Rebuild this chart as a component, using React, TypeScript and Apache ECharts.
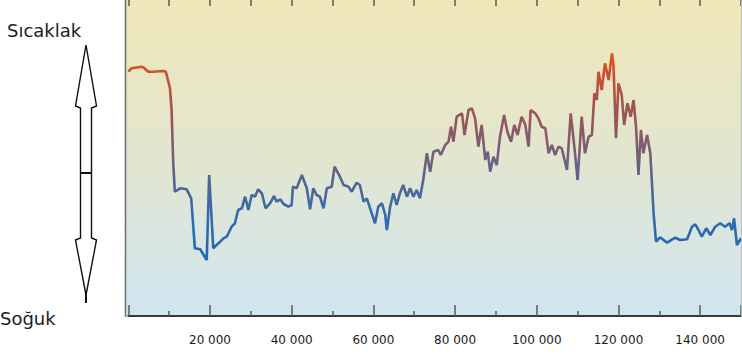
import React, { useEffect, useRef } from "react";
import * as echarts from "echarts";

// Years before present (x) and relative temperature index (y, unitless)
const years: number[] = [
  0, 800, 3300, 3800, 4900, 6100, 8600, 9200, 10200, 10600, 11000, 11400, 12700, 14300, 15400,
  16300, 17600, 19200, 19800, 20800, 21600, 22500, 23300, 24100, 25300, 26100, 26900, 27800,
  28600, 29400, 30200, 31000, 31800, 32700, 33600, 34700, 35700, 36300, 37200, 38000, 39200,
  40000, 40300, 41200, 42500, 43700, 44500, 45300, 46100, 46900, 47800, 48600, 49800, 50500,
  51800, 52700, 53900, 54700, 55900, 56700, 57600, 58400, 59200, 60400, 61200, 62100, 62900,
  63300, 64100, 64900, 65700, 66500, 67300, 68200, 69000, 69800, 70600, 71400, 72200, 73100,
  73900, 74700, 75900, 76500, 77600, 78400, 79000, 79600, 80400, 81700, 82300, 83300, 84100,
  84900, 85700, 86500, 87400, 88000, 88600, 89400, 90200, 91000, 92000, 92800, 93700, 94500,
  95300, 96300, 97200, 98000, 98500, 99600, 100400, 101200, 102100, 102900, 103700, 104500,
  105300, 106100, 107400, 108300, 109200, 110000, 111000, 111800, 112700, 113500, 114100,
  114700, 115100, 115900, 116700, 117600, 118400, 118800, 119400, 120000, 120800, 121400,
  122200, 123000, 123700, 124300, 124900, 125500, 126100, 127000, 127800, 128600, 129200,
  130200, 131900, 133900, 135100, 136800, 138000, 138800, 139600, 140400, 141500, 142500,
  143700, 144900, 146100, 147200, 147800, 148300, 149000, 150000,
];

const temps: number[] = [
  244.3, 247.7, 249.3, 248.3, 244.3, 244.3, 245, 244.3, 227.7, 206, 153, 124.3, 127.7, 126.7, 117.7,
  67.7, 66.7, 56, 141, 67.7, 71, 74.3, 77.7, 79.3, 89.3, 92.7, 106, 107.7,
  119.3, 106, 121, 119.3, 126.7, 122.7, 107.7, 112.7, 120, 114.3, 116.7, 112, 109.3,
  111, 129.3, 127.7, 141, 127.7, 106.7, 127.7, 121, 119.3, 107.7, 127.7, 129.3, 149.3,
  139.3, 131, 129.3, 124.3, 133.3, 131, 114.3, 117.7, 107.7, 92.7, 109.3, 112.7, 101,
  86, 109.3, 122.7, 111, 122.7, 131, 119.3, 127.7, 119.3, 126, 117.7, 136, 162.7,
  144.3, 164.3, 166, 161, 171, 174.3, 189.3, 174.3, 199.3, 202.7, 181, 206, 207.7,
  197.7, 169.3, 191, 156, 164.3, 144.3, 159.3, 151, 179.3, 201, 184.3, 174.3, 191,
  181, 199.3, 191, 169.3, 206, 202.7, 197.7, 189.3, 187.7, 162.7, 171, 161,
  169.3, 167.7, 146, 202.7, 169.3, 136, 199.3, 162.7, 179.3, 181, 222.7,
  216, 244.3, 226, 252.7, 236, 262.7, 249.3, 177.7, 232.7, 221, 191,
  212.7, 199.3, 216, 189.3, 141, 186, 162.7, 181, 162.7, 102.7, 74.3,
  78.7, 73.3, 78.3, 76, 76.7, 89.3, 91.7, 86, 79.3, 87.7, 81,
  89.3, 92.7, 89.3, 92.7, 86, 97.7, 71, 77.7,
];

const warmLabel = "Sıcaklak";
const coldLabel = "Soğuk";

const fmt = (v: number) => String(v).replace(/\B(?=(\d{3})+(?!\d))/g, " ");

export default function App() {
  const ref = useRef<HTMLDivElement>(null);
  useEffect(() => {
    if (!ref.current) return;
    const chart = echarts.init(ref.current, undefined, { renderer: "svg" });
    const data = years.map((y, i) => [y, temps[i]]);
    const gridLeft = 128.3;
    const gridTop = 0;
    const gridH = 316;
    chart.setOption({
      animation: false,
      graphic: [
        {
          type: "rect",
          z: -10,
          silent: true,
          shape: { x: 125, y: 0, width: 617, height: gridH },
          style: {
            fill: new echarts.graphic.LinearGradient(0, 0, 0, 1, [
              { offset: 0, color: "#EFE8B8" },
              { offset: 0.5, color: "#E2E6CF" },
              { offset: 1, color: "#D0E5F1" },
            ]),
          },
        },
        {
          type: "line",
          z: 10,
          shape: { x1: 125.5, y1: 0, x2: 125.5, y2: gridH + 1 },
          style: { stroke: "#6f7579", lineWidth: 1.6 },
        },
        {
          type: "line",
          z: 10,
          shape: { x1: 741.5, y1: 0, x2: 741.5, y2: gridH + 1 },
          style: { stroke: "#b8bcc0", lineWidth: 1 },
        },
        {
          type: "polygon",
          shape: {
            points: [
              [86, 45], [96.5, 106], [91.5, 108], [91.5, 238], [96.5, 240], [86, 295],
              [75.5, 240], [80.5, 238], [80.5, 108], [75.5, 106],
            ],
          },
          style: { fill: "#ffffff", stroke: "#111", lineWidth: 1.4 },
        },
        {
          type: "line",
          shape: { x1: 80.5, y1: 173, x2: 91.5, y2: 173 },
          style: { stroke: "#111", lineWidth: 2 },
        },
        {
          type: "line",
          shape: { x1: 86, y1: 293, x2: 86, y2: 303 },
          style: { stroke: "#111", lineWidth: 2 },
        },
        {
          type: "text",
          x: 7,
          y: 30,
          style: {
            text: warmLabel,
            font: "18px 'DejaVu Sans'",
            fill: "#1d1d1d",
            verticalAlign: "middle",
            align: "left",
          },
        },
        {
          type: "text",
          x: 0,
          y: 318,
          style: {
            text: coldLabel,
            font: "18px 'DejaVu Sans'",
            fill: "#1d1d1d",
            verticalAlign: "middle",
            align: "left",
          },
        },
      ],
      grid: { left: gridLeft, right: 1, top: gridTop, height: gridH },
      xAxis: [
        {
          type: "value",
          min: 0,
          max: 150000,
          interval: 20000,
          position: "bottom",
          splitLine: { show: false },
          axisLine: { show: true, lineStyle: { color: "#3a3a3a", width: 2.2 } },
          axisTick: { show: true, inside: true, length: 11, lineStyle: { color: "#5a5a5a", width: 1.5 } },
          minorTick: { show: true, splitNumber: 2, length: 5, lineStyle: { color: "#5a5a5a", width: 1.5 } },
          axisLabel: {
            show: true,
            margin: 18,
            showMinLabel: false,
            showMaxLabel: false,
            color: "#1a1a1a",
            fontFamily: "DejaVu Sans",
            fontSize: 12,
            formatter: (v: number) => (v === 0 || v === 150000 ? "" : fmt(v)),
          },
        },
        {
          type: "value",
          min: 0,
          max: 150000,
          interval: 10000,
          position: "top",
          splitLine: { show: false },
          axisLine: { show: false },
          axisTick: { show: true, inside: true, length: 6, lineStyle: { color: "#5a5a5a", width: 1.5 } },
          axisLabel: { show: false },
        },
      ],
      yAxis: {
        type: "value",
        min: 0,
        max: gridH,
        show: false,
        splitLine: { show: false },
      },
      visualMap: {
        show: false,
        type: "continuous",
        dimension: 1,
        seriesIndex: 0,
        min: 56,
        max: 263,
        inRange: {
          color: ["#2467B2", "#2A6AB3", "#3A6AA8", "#556590", "#745F7A", "#8C5866", "#A2534F", "#C64F36", "#E6501A"],
        },
      },
      series: [
        {
          type: "line",
          xAxisIndex: 0,
          data,
          showSymbol: false,
          symbol: "none",
          lineStyle: { width: 2.6 },
          z: 5,
        },
      ],
    });
    return () => chart.dispose();
  }, []);
  return (
    <div
      ref={ref}
      style={{ position: "fixed", left: 0, top: 0, width: 742, height: 355, background: "#fff" }}
    />
  );
}
